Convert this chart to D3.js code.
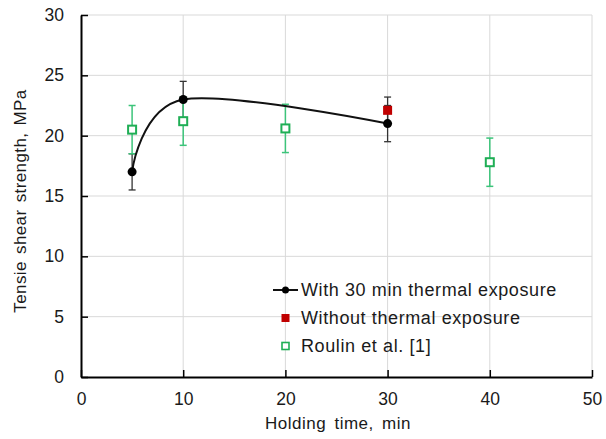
<!DOCTYPE html>
<html>
<head>
<meta charset="utf-8">
<script src="https://cdn.jsdelivr.net/npm/d3@7"></script>
<style>
  body { margin: 0; background: #fff; }
  text { font-family: "Liberation Sans", Arial, sans-serif; fill: #1a1a1a; }
</style>
</head>
<body>
<script>
// data
var withTime = [5, 10, 30];
var withStrength = [17, 23, 21];
var withErr = [1.5, 1.5, 1.5];

var withoutTime = [30];
var withoutStrength = [22.1];
var withoutErr = [1.1];

var roulinTime = [5, 10, 20, 40];
var roulinStrength = [20.5, 21.2, 20.6, 17.8];
var roulinErr = [2, 2, 2, 2];

var xTicks = [0, 10, 20, 30, 40, 50];
var yTicks = [0, 5, 10, 15, 20, 25, 30];

var legendLabels = ["With 30 min thermal exposure", "Without thermal exposure", "Roulin et al. [1]"];

var w = 606, h = 439;
var pLeft = 81, pRight = 592, pTop = 15, pBottom = 377;
var green = "#1fae55", greenBar = "#3cc47a", red = "#c00000";

var svg = d3.select("body").append("svg")
    .attr("width", w)
    .attr("height", h);

var x = d3.scaleLinear().domain([0, 50]).range([pLeft, pRight]);
var y = d3.scaleLinear().domain([0, 30]).range([pBottom, pTop]);

// gridlines
svg.selectAll("line.gx").data(xTicks.slice(1)).enter().append("line")
    .attr("x1", d => x(d)).attr("x2", d => x(d))
    .attr("y1", pTop).attr("y2", pBottom)
    .attr("stroke", "#d9d9d9").attr("stroke-width", 1);
svg.selectAll("line.gy").data(yTicks.slice(1)).enter().append("line")
    .attr("x1", pLeft).attr("x2", pRight)
    .attr("y1", d => y(d)).attr("y2", d => y(d))
    .attr("stroke", "#d9d9d9").attr("stroke-width", 1);

// axes with inward ticks
var xAxis = svg.append("g")
    .attr("transform", "translate(0," + pBottom + ")")
    .call(d3.axisBottom(x).tickValues(xTicks).tickSizeInner(-7).tickSizeOuter(0).tickPadding(16));
var yAxis = svg.append("g")
    .attr("transform", "translate(" + pLeft + ",0)")
    .call(d3.axisLeft(y).tickValues(yTicks).tickSizeInner(-7).tickSizeOuter(0).tickPadding(17));

[xAxis, yAxis].forEach(function(a) {
  a.select(".domain").attr("stroke", "#000").attr("stroke-width", 2);
  a.selectAll(".tick line").attr("stroke", "#000").attr("stroke-width", 1.5);
  a.selectAll(".tick text").attr("font-size", 17.5).attr("fill", "#1a1a1a")
    .attr("font-family", "Liberation Sans, Arial, sans-serif");
});
xAxis.selectAll(".tick text").attr("dy", "0.71em");

// error bars helper
function errorBars(xs, ys, es, color, width) {
  var g = svg.append("g");
  xs.forEach(function(t, i) {
    var cx = x(t), y1 = y(ys[i] + es[i]), y2 = y(ys[i] - es[i]);
    g.append("line").attr("x1", cx).attr("x2", cx).attr("y1", y1).attr("y2", y2)
      .attr("stroke", color).attr("stroke-width", width);
    [y1, y2].forEach(function(yy) {
      g.append("line").attr("x1", cx - 3.5).attr("x2", cx + 3.5).attr("y1", yy).attr("y2", yy)
        .attr("stroke", color).attr("stroke-width", width);
    });
  });
}

errorBars(withTime, withStrength, withErr, "#333", 1.3);
errorBars(withoutTime, withoutStrength, withoutErr, "#333", 1.3);
errorBars(roulinTime, roulinStrength, roulinErr, greenBar, 1.5);

// smoothed line
var line = d3.line()
    .x(d => x(d[0])).y(d => y(d[1]))
    .curve(d3.curveCatmullRom.alpha(0));
svg.append("path")
    .datum(withTime.map((t, i) => [t, withStrength[i]]))
    .attr("d", line)
    .attr("fill", "none").attr("stroke", "#111").attr("stroke-width", 2);

svg.selectAll("circle.w").data(withTime).enter().append("circle")
    .attr("cx", d => x(d))
    .attr("cy", (d, i) => y(withStrength[i]))
    .attr("r", 4.5).attr("fill", "#000");

svg.selectAll("rect.r").data(withoutTime).enter().append("rect")
    .attr("x", d => x(d) - 4.5)
    .attr("y", (d, i) => y(withoutStrength[i]) - 4.5)
    .attr("width", 9).attr("height", 9)
    .attr("fill", red);

svg.selectAll("rect.g").data(roulinTime).enter().append("rect")
    .attr("x", d => x(d) - 4)
    .attr("y", (d, i) => y(roulinStrength[i]) - 4)
    .attr("width", 8).attr("height", 8)
    .attr("fill", "#fff").attr("stroke", green).attr("stroke-width", 2);

// legend
var lg = svg.append("g");
var ly = [290, 318, 346];
lg.append("line").attr("x1", 273).attr("x2", 298).attr("y1", ly[0]).attr("y2", ly[0])
  .attr("stroke", "#111").attr("stroke-width", 2);
lg.append("circle").attr("cx", 285.5).attr("cy", ly[0]).attr("r", 3.5).attr("fill", "#000");
lg.append("rect").attr("x", 281.5).attr("y", ly[1] - 4).attr("width", 8).attr("height", 8).attr("fill", red);
lg.append("rect").attr("x", 282).attr("y", ly[2] - 3.5).attr("width", 7).attr("height", 7)
  .attr("fill", "#fff").attr("stroke", green).attr("stroke-width", 1.6);
lg.selectAll("text").data(legendLabels).enter().append("text")
  .attr("x", 301).attr("y", (d, i) => ly[i])
  .attr("dy", "0.36em")
  .attr("font-size", 18)
  .attr("letter-spacing", 0.6)
  .text(d => d);

// axis titles
svg.append("text")
  .attr("x", 338).attr("y", 429)
  .attr("text-anchor", "middle").attr("font-size", 17)
  .attr("letter-spacing", 0.5).attr("word-spacing", 3)
  .text("Holding time, min");
svg.append("text")
  .attr("transform", "translate(26,201) rotate(-90)")
  .attr("text-anchor", "middle").attr("font-size", 17)
  .attr("letter-spacing", 0.4).attr("word-spacing", 2)
  .text("Tensie shear strength, MPa");
</script>
</body>
</html>
